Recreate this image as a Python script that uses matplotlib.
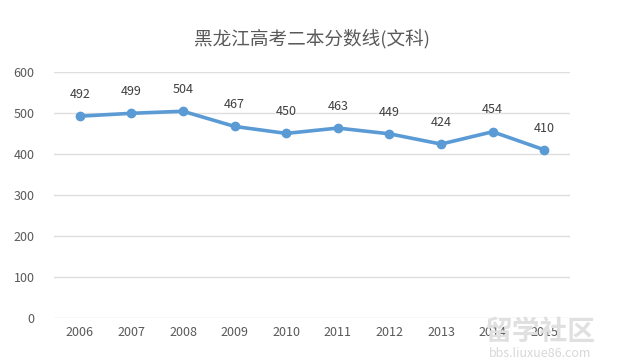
import matplotlib
matplotlib.use("Agg")
import matplotlib.pyplot as plt

plt.rcParams['font.family'] = ['Noto Sans CJK SC', 'DejaVu Sans']

# Données
annees = ["2006", "2007", "2008", "2009", "2010", "2011", "2012", "2013", "2014", "2015"]
scores = [492, 499, 504, 467, 450, 463, 449, 424, 454, 410]
graduations = [0, 100, 200, 300, 400, 500, 600]

fig = plt.figure(figsize=(6.24, 3.63), dpi=100)
ax = fig.add_axes([0.0865, 0.124, 0.827, 0.678])

x = list(range(len(annees)))
ax.plot(x, scores, color="#5B9BD5", linewidth=2.6, marker="o", markersize=6, zorder=3)
for xi, v in zip(x, scores):
	ax.annotate(str(v), (xi, v), xytext=(0, 11), textcoords="offset points",
				ha="center", va="bottom", fontsize=9, color="#404040")

ax.set_xlim(-0.5, len(annees) - 0.5)
ax.set_ylim(0, 600)
ax.set_yticks(graduations)
ax.set_xticks(x)
ax.set_xticklabels(annees)
ax.yaxis.grid(True, color="#DEDEDE", linewidth=1)
ax.set_axisbelow(True)
for s in ax.spines.values():
	s.set_visible(False)
ax.tick_params(length=0, labelsize=9, colors="#595959")
ax.tick_params(axis="y", pad=14)
ax.tick_params(axis="x", pad=6)

fig.text(0.5, 0.893, "黑龙江高考二本分数线(文科)", ha="center", va="center", fontsize=13.4, color="#595959")

# Filigrane
fig.text(0.865, 0.085, "留学社区", ha="center", va="center", fontsize=20, color="#E0E0E0", weight="bold", zorder=5)
fig.text(0.865, 0.025, "bbs.liuxue86.com", ha="center", va="center", fontsize=9, color="#D8D8D8", zorder=5)

fig.savefig("out.png", dpi=100)
